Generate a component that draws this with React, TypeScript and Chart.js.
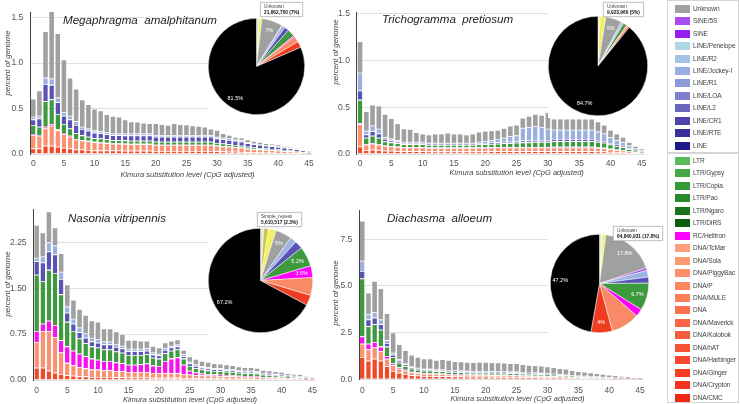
import React, { useEffect, useRef } from "react";
import { Chart, registerables } from "chart.js";

Chart.register(...registerables);
Chart.defaults.font.family = "'Liberation Sans', Arial, sans-serif";

const FONT = "'Liberation Sans', Arial, sans-serif";

// ---------- categories ----------
const kimuraBins = [
  "0", "1", "2", "3", "4", "5", "6", "7", "8", "9",
  "10", "11", "12", "13", "14", "15", "16", "17", "18", "19",
  "20", "21", "22", "23", "24", "25", "26", "27", "28", "29",
  "30", "31", "32", "33", "34", "35", "36", "37", "38", "39",
  "40", "41", "42", "43", "44", "45",
];

const seriesNames = ["DNA (CMC…hAT)", "DNA (TcMar…MULE)", "RC/Helitron", "LTR", "LINE", "LINE (R1…Penelope)", "Unknown"];
const seriesColors = ["#f04a28", "#f89272", "#f812f0", "#3d9a3d", "#5a52b4", "#9cb0e0", "#a0a0a0"];

// ---------- Megaphragma amalphitanum ----------
const megaDnaRed = [0.06,0.06,0.09,0.09,0.08,0.07,0.06,0.05,0.05,0.045, 0.04,0.04,0.04,0.038,0.038,0.037,0.035,0.035,0.035,0.035, 0.033,0.033,0.033,0.033,0.033,0.033,0.033,0.033,0.033,0.033, 0.03,0.028,0.026,0.024,0.022,0.019,0.017,0.016,0.014,0.013, 0.012,0.01,0.009,0.008,0.005,0.004];
const megaDnaSalmon = [0.15,0.14,0.19,0.22,0.18,0.15,0.13,0.11,0.10,0.095, 0.09,0.085,0.08,0.075,0.075,0.074,0.072,0.072,0.072,0.072, 0.066,0.066,0.066,0.066,0.066,0.066,0.066,0.066,0.066,0.066, 0.06,0.056,0.053,0.05,0.046,0.04,0.036,0.033,0.03,0.028, 0.025,0.022,0.02,0.017,0.011,0.009];
const megaRc = [0.01,0.01,0.02,0.02,0.01,0.01,0.01,0.005,0.005,0.005, 0.005,0.005,0.005,0.005,0.005,0.005,0.005,0.005,0.005,0.005, 0.004,0.004,0.004,0.004,0.004,0.004,0.004,0.004,0.004,0.004, 0.004,0.004,0.003,0.003,0.003,0.002,0.002,0.002,0.002,0.002, 0.001,0.001,0.001,0.001,0.001,0.001];
const megaLtr = [0.10,0.09,0.28,0.27,0.17,0.10,0.08,0.065,0.05,0.045, 0.04,0.04,0.037,0.035,0.035,0.034,0.034,0.034,0.034,0.034, 0.032,0.032,0.032,0.032,0.032,0.032,0.032,0.032,0.032,0.032, 0.028,0.027,0.025,0.023,0.021,0.018,0.017,0.015,0.014,0.013, 0.012,0.01,0.009,0.008,0.005,0.004];
const megaLine = [0.06,0.09,0.19,0.16,0.13,0.09,0.10,0.09,0.07,0.065, 0.06,0.058,0.057,0.053,0.053,0.055,0.058,0.058,0.058,0.058, 0.055,0.055,0.055,0.055,0.055,0.055,0.055,0.055,0.055,0.055, 0.05,0.048,0.047,0.045,0.044,0.039,0.037,0.034,0.031,0.03, 0.027,0.025,0.023,0.019,0.014,0.013];
const megaLineLight = [0.03,0.03,0.07,0.07,0.05,0.04,0.04,0.04,0.025,0.025, 0.025,0.022,0.021,0.019,0.019,0.02,0.021,0.021,0.021,0.021, 0.02,0.02,0.02,0.02,0.02,0.02,0.02,0.02,0.02,0.02, 0.018,0.017,0.016,0.015,0.014,0.012,0.011,0.01,0.009,0.009, 0.008,0.007,0.006,0.005,0.004,0.004];
const megaUnknown = [0.19,0.27,0.50,0.73,0.70,0.57,0.41,0.35,0.29,0.26, 0.23,0.22,0.19,0.185,0.175,0.145,0.125,0.12,0.11,0.105, 0.12,0.11,0.10,0.12,0.11,0.105,0.095,0.09,0.08,0.06, 0.065,0.04,0.03,0.02,0.02,0.02,0.015,0.015,0.01,0.01, 0.01,0.005,0.004,0.002,0,0];
const megaTickValues = [0, 0.5, 1.0, 1.5];
const megaTickLabels = ["0.0", "0.5", "1.0", "1.5"];

// ---------- Trichogramma pretiosum ----------
const trichoDnaRed = [0.08,0.04,0.045,0.04,0.035,0.035,0.03,0.03,0.03,0.03, 0.03,0.028,0.028,0.028,0.028,0.028,0.028,0.028,0.028,0.028, 0.028,0.03,0.03,0.03,0.03,0.03,0.03,0.03,0.03,0.03, 0.03,0.03,0.03,0.03,0.03,0.03,0.03,0.03,0.028,0.026, 0.022,0.019,0.016,0.011,0.007,0.005];
const trichoDnaSalmon = [0.24,0.06,0.065,0.06,0.05,0.045,0.045,0.04,0.04,0.04, 0.04,0.038,0.038,0.038,0.038,0.038,0.038,0.038,0.038,0.04, 0.04,0.04,0.04,0.04,0.04,0.04,0.04,0.04,0.04,0.04, 0.04,0.04,0.04,0.04,0.04,0.04,0.04,0.04,0.038,0.035, 0.03,0.025,0.022,0.015,0.01,0.007];
const trichoRc = [0.01,0.005,0.005,0.005,0.005,0.005,0.005,0.004,0.004,0.004, 0.004,0.004,0.004,0.004,0.004,0.004,0.004,0.004,0.004,0.004, 0.004,0.004,0.004,0.005,0.005,0.005,0.005,0.005,0.005,0.005, 0.005,0.008,0.008,0.008,0.008,0.008,0.008,0.008,0.006,0.005, 0.004,0.003,0.003,0.002,0.001,0.001];
const trichoLtr = [0.25,0.07,0.08,0.07,0.045,0.04,0.035,0.03,0.03,0.03, 0.03,0.027,0.027,0.027,0.027,0.027,0.027,0.027,0.027,0.03, 0.032,0.034,0.036,0.04,0.042,0.045,0.05,0.05,0.055,0.055, 0.055,0.06,0.06,0.06,0.06,0.06,0.06,0.06,0.058,0.054, 0.045,0.038,0.033,0.023,0.015,0.01];
const trichoLine = [0.1,0.035,0.05,0.045,0.025,0.02,0.018,0.013,0.013,0.013, 0.013,0.012,0.012,0.012,0.012,0.012,0.012,0.012,0.012,0.013, 0.014,0.015,0.015,0.015,0.015,0.015,0.02,0.02,0.02,0.02, 0.02,0.022,0.022,0.022,0.022,0.022,0.022,0.022,0.02,0.02, 0.017,0.015,0.014,0.01,0.007,0.005];
const trichoLineLight = [0.19,0.04,0.06,0.05,0.02,0.02,0.017,0.013,0.013,0.013, 0.013,0.011,0.011,0.011,0.011,0.011,0.011,0.011,0.011,0.015, 0.022,0.027,0.035,0.045,0.058,0.065,0.135,0.145,0.15,0.14, 0.12,0.1,0.1,0.1,0.1,0.1,0.1,0.1,0.09,0.08, 0.062,0.05,0.042,0.029,0.02,0.012];
const trichoUnknown = [0.33,0.20,0.215,0.24,0.24,0.21,0.17,0.135,0.13,0.095, 0.08,0.08,0.09,0.09,0.10,0.09,0.09,0.08,0.09,0.10, 0.10,0.095,0.09,0.095,0.105,0.105,0.10,0.11,0.12,0.12, 0.17,0.11,0.11,0.11,0.11,0.11,0.11,0.11,0.10,0.085, 0.07,0.06,0.045,0.03,0.017,0.01];
const trichoTickValues = [0, 0.5, 1.0, 1.5];
const trichoTickLabels = ["0.0", "0.5", "1.0", "1.5"];

// ---------- Nasonia vitripennis ----------
const nasDnaRed = [0.2,0.2,0.15,0.12,0.1,0.08,0.07,0.06,0.06,0.05, 0.05,0.05,0.05,0.045,0.045,0.04,0.04,0.04,0.04,0.035, 0.035,0.035,0.035,0.035,0.03,0.03,0.028,0.026,0.025,0.024, 0.023,0.022,0.021,0.02,0.019,0.019,0.018,0.015,0.014,0.013, 0.012,0.01,0.009,0.008,0.006,0.004];
const nasDnaSalmon = [0.42,0.6,0.65,0.58,0.35,0.2,0.17,0.15,0.13,0.12, 0.12,0.11,0.11,0.1,0.1,0.09,0.09,0.09,0.09,0.08, 0.075,0.075,0.075,0.075,0.07,0.06,0.055,0.05,0.048,0.045, 0.044,0.042,0.04,0.036,0.034,0.034,0.032,0.026,0.025,0.022, 0.02,0.017,0.015,0.013,0.009,0.006];
const nasRc = [0.18,0.12,0.17,0.2,0.2,0.27,0.24,0.22,0.2,0.18, 0.16,0.15,0.15,0.14,0.13,0.12,0.12,0.13,0.14,0.12, 0.12,0.2,0.24,0.26,0.15,0.06,0.04,0.03,0.025,0.02, 0.02,0.018,0.017,0.015,0.014,0.014,0.013,0.01,0.01,0.009, 0.008,0.006,0.005,0.005,0.003,0.002];
const nasLtr = [0.92,0.7,0.83,0.85,0.75,0.4,0.32,0.25,0.21,0.2, 0.2,0.19,0.19,0.18,0.17,0.16,0.16,0.15,0.15,0.13, 0.12,0.13,0.13,0.13,0.1,0.08,0.07,0.065,0.06,0.058, 0.056,0.054,0.052,0.048,0.045,0.045,0.042,0.034,0.033,0.029, 0.027,0.022,0.019,0.017,0.012,0.008];
const nasLine = [0.22,0.3,0.3,0.3,0.25,0.15,0.12,0.1,0.09,0.08, 0.08,0.08,0.08,0.075,0.07,0.06,0.06,0.06,0.06,0.05, 0.05,0.05,0.05,0.05,0.04,0.04,0.035,0.032,0.03,0.028, 0.028,0.026,0.025,0.024,0.023,0.023,0.022,0.019,0.018,0.017, 0.016,0.014,0.013,0.012,0.009,0.006];
const nasLineLight = [0.06,0.1,0.15,0.15,0.12,0.1,0.08,0.08,0.07,0.06, 0.06,0.05,0.05,0.05,0.045,0.04,0.04,0.04,0.04,0.035, 0.03,0.03,0.03,0.03,0.03,0.03,0.025,0.022,0.02,0.02, 0.019,0.018,0.017,0.016,0.015,0.015,0.014,0.012,0.012,0.011, 0.01,0.009,0.008,0.008,0.006,0.004];
const nasUnknown = [0.52,0.38,0.49,0.28,0.29,0.35,0.30,0.29,0.29,0.27, 0.27,0.20,0.20,0.19,0.175,0.13,0.13,0.12,0.11,0.095, 0.09,0.08,0.07,0.07,0.06,0.07,0.077,0.075,0.072,0.065, 0.065,0.06,0.058,0.051,0.045,0.045,0.044,0.034,0.033,0.029, 0.027,0.022,0.018,0.017,0.01,0.005];
const nasTickValues = [0, 0.75, 1.5, 2.25];
const nasTickLabels = ["0.00", "0.75", "1.50", "2.25"];

// ---------- Diachasma alloeum ----------
const diaDnaRed = [1.2,1.0,1.1,1.0,0.7,0.45,0.35,0.28,0.22,0.2, 0.18,0.18,0.17,0.17,0.16,0.15,0.15,0.14,0.14,0.14, 0.14,0.13,0.13,0.13,0.12,0.12,0.11,0.105,0.1,0.095, 0.09,0.085,0.075,0.07,0.06,0.05,0.045,0.04,0.035,0.03, 0.025,0.02,0.016,0.012,0.008,0.005];
const diaDnaSalmon = [0.7,0.6,0.6,0.5,0.4,0.3,0.22,0.18,0.15,0.13, 0.12,0.12,0.11,0.11,0.1,0.1,0.1,0.1,0.09,0.09, 0.09,0.09,0.09,0.085,0.085,0.085,0.08,0.075,0.07,0.07, 0.065,0.06,0.055,0.05,0.045,0.04,0.035,0.03,0.027,0.023, 0.02,0.016,0.013,0.01,0.006,0.004];
const diaRc = [0.4,0.3,0.3,0.25,0.15,0.1,0.07,0.05,0.04,0.04, 0.03,0.03,0.03,0.03,0.03,0.03,0.03,0.03,0.03,0.03, 0.03,0.03,0.03,0.03,0.03,0.03,0.025,0.025,0.025,0.02, 0.02,0.02,0.018,0.017,0.015,0.012,0.011,0.01,0.009,0.008, 0.007,0.006,0.005,0.004,0.003,0.002];
const diaLtr = [3.1,0.95,0.95,0.9,0.5,0.35,0.25,0.2,0.16,0.14, 0.13,0.13,0.12,0.12,0.11,0.11,0.1,0.1,0.1,0.1, 0.1,0.1,0.1,0.095,0.095,0.095,0.09,0.085,0.085,0.08, 0.075,0.07,0.065,0.06,0.055,0.05,0.045,0.04,0.037,0.033, 0.028,0.024,0.019,0.015,0.01,0.006];
const diaLine = [0.4,0.35,0.35,0.3,0.2,0.12,0.1,0.08,0.07,0.06, 0.06,0.06,0.05,0.05,0.05,0.05,0.05,0.05,0.05,0.05, 0.05,0.05,0.05,0.05,0.05,0.05,0.05,0.045,0.045,0.045, 0.045,0.045,0.04,0.04,0.035,0.035,0.035,0.035,0.035,0.034, 0.032,0.03,0.027,0.024,0.018,0.012];
const diaLineLight = [0.55,0.3,0.3,0.25,0.15,0.1,0.08,0.06,0.05,0.05, 0.04,0.04,0.04,0.04,0.04,0.04,0.04,0.04,0.04,0.04, 0.04,0.04,0.035,0.035,0.035,0.035,0.035,0.035,0.035,0.035, 0.03,0.03,0.027,0.026,0.023,0.02,0.019,0.018,0.017,0.015, 0.013,0.012,0.01,0.009,0.007,0.005];
const diaUnknown = [2.1,1.1,1.63,1.64,1.4,1.04,0.77,0.67,0.58,0.54, 0.51,0.51,0.48,0.52,0.51,0.45,0.44,0.43,0.425,0.44, 0.44,0.435,0.425,0.415,0.405,0.405,0.38,0.36,0.35,0.335, 0.315,0.30,0.27,0.257,0.217,0.183,0.17,0.147,0.13,0.107, 0.085,0.072,0.05,0.036,0.018,0.006];
const diaTickValues = [0, 2.5, 5.0, 7.5];
const diaTickLabels = ["0.0", "2.5", "5.0", "7.5"];

// ---------- pies (percent of genome) ----------
const pieCategories = ["Other", "Low_complexity", "Simple_repeat", "Unknown", "SINE", "LINE (minor)", "LINE", "LTR", "RC/Helitron", "DNA (minor)", "DNA", "Non-repeat"];
const pieColors = ["#e4e4e4", "#c9c94e", "#f2f25c", "#a0a0a0", "#a040f0", "#a0b4e4", "#5a52b4", "#3d9a3d", "#ff00ff", "#f88a68", "#f03c20", "#000000"];
const megaPie = [0.8, 0, 1.0, 7, 0.2, 1.0, 1.5, 2.5, 0.4, 2.0, 2.1, 81.5];
const megaPieLabels = ["", "", "", "7%", "", "", "", "", "", "", "", "81.5%"];
const trichoPie = [0.6, 0, 1.8, 5, 0, 0.5, 0.3, 1.1, 0.1, 0.5, 0.4, 84.7];
const trichoPieLabels = ["", "", "", "5%", "", "", "", "", "", "", "", "84.7%"];
const nasPie = [1.0, 1.5, 2.3, 5, 0, 2.0, 2.5, 6.2, 3.6, 5.5, 3.2, 67.2];
const nasPieLabels = ["", "", "", "5%", "", "", "", "5.2%", "3.6%", "", "", "67.2%"];
const diaPie = [0.8, 0.3, 1.0, 17.8, 0.8, 2.2, 2.0, 9.0, 2.5, 9.4, 7.0, 47.2];
const diaPieLabels = ["", "", "", "17.8%", "", "", "", "6.7%", "", "", "4%", "47.2%"];

// ---------- legend ----------
const legendNamesA = ["Unknown", "SINE/5S", "SINE", "LINE/Penelope", "LINE/R2", "LINE/Jockey-I", "LINE/R1", "LINE/LOA", "LINE/L2", "LINE/CR1", "LINE/RTE", "LINE"];
const legendColorsA = ["#a0a0a0", "#a94cf2", "#9420f0", "#add8e6", "#a6c2e6", "#98ade0", "#8c9ad8", "#7c82cc", "#6a66bc", "#4e44a8", "#3a2e9c", "#1e1a8c"];
const legendNamesB = ["LTR", "LTR/Gypsy", "LTR/Copia", "LTR/Pao", "LTR/Ngaro", "LTR/DIRS", "RC/Helitron", "DNA/TcMar", "DNA/Sola", "DNA/PiggyBac", "DNA/P", "DNA/MULE", "DNA", "DNA/Maverick", "DNA/Kolobok", "DNA/hAT", "DNA/Harbinger", "DNA/Ginger", "DNA/Crypton", "DNA/CMC"];
const legendColorsB = ["#5cb85c", "#48a848", "#379a37", "#2a8a2a", "#1a741a", "#0b5e0b", "#ff00ff", "#ffa07a", "#fe9a72", "#fd906a", "#fc8862", "#fb805a", "#f97050", "#f86646", "#f85c3e", "#f75236", "#f7482e", "#f63e26", "#f5321e", "#f42616"];

type BarSpec = {
  left: number; top: number; width: number; height: number;
  yAxisW: number; padRight: number; padTop: number; xAxisH: number; xTickPad: number;
  max: number; tickValues: number[]; tickLabels: string[]; series: number[][];
};

const barSpecs: BarSpec[] = [
  { left: 0, top: 0, width: 330, height: 180, yAxisW: 30.2, padRight: 18, padTop: 10.5, xAxisH: 26, xTickPad: 5, max: 1.56,
    tickValues: megaTickValues, tickLabels: megaTickLabels,
    series: [megaDnaRed, megaDnaSalmon, megaRc, megaLtr, megaLine, megaLineLight, megaUnknown] },
  { left: 330, top: 0, width: 330, height: 180, yAxisW: 26.9, padRight: 15.1, padTop: 9.6, xAxisH: 26, xTickPad: 5, max: 1.52,
    tickValues: trichoTickValues, tickLabels: trichoTickLabels,
    series: [trichoDnaRed, trichoDnaSalmon, trichoRc, trichoLtr, trichoLine, trichoLineLight, trichoUnknown] },
  { left: 0, top: 180, width: 330, height: 224, yAxisW: 33.6, padRight: 14.7, padTop: 29.9, xAxisH: 24, xTickPad: 6, max: 2.78,
    tickValues: nasTickValues, tickLabels: nasTickLabels,
    series: [nasDnaRed, nasDnaSalmon, nasRc, nasLtr, nasLine, nasLineLight, nasUnknown] },
  { left: 330, top: 180, width: 330, height: 224, yAxisW: 29.2, padRight: 16.9, padTop: 30.3, xAxisH: 24.7, xTickPad: 6, max: 9.05,
    tickValues: diaTickValues, tickLabels: diaTickLabels,
    series: [diaDnaRed, diaDnaSalmon, diaRc, diaLtr, diaLine, diaLineLight, diaUnknown] },
];

function BarPanel({ spec }: { spec: BarSpec }) {
  const ref = useRef<HTMLCanvasElement>(null);
  useEffect(() => {
    const chart = new Chart(ref.current as HTMLCanvasElement, {
      type: "bar",
      data: {
        labels: kimuraBins,
        datasets: spec.series.map((d, i) => ({
          label: seriesNames[i],
          data: d,
          backgroundColor: seriesColors[i],
          borderColor: "#ffffff",
          borderWidth: i === spec.series.length - 1 ? 0 : { top: 0.8, bottom: 0, left: 0, right: 0 },
          barPercentage: 0.74,
          categoryPercentage: 1,
        })),
      },
      options: {
        animation: false,
        responsive: false,
        events: [],
        layout: { padding: { left: 0, right: spec.padRight, top: spec.padTop, bottom: 0 } },
        plugins: { legend: { display: false }, tooltip: { enabled: false } },
        scales: {
          x: {
            stacked: true,
            grid: { display: false, drawTicks: false, tickLength: 0 },
            border: { display: false },
            ticks: {
              autoSkip: false, maxRotation: 0, minRotation: 0, padding: spec.xTickPad,
              color: "#555", font: { size: 8.5 },
              callback: (_v: any, i: number) => (i % 5 === 0 ? kimuraBins[i] : ""),
            },
            afterFit: (s: any) => { s.height = spec.xAxisH; },
          },
          y: {
            stacked: true, min: 0, max: spec.max,
            grid: { color: "#e0e0e0", drawTicks: false, tickLength: 0 },
            border: { display: true, color: "#444", width: 1 },
            ticks: {
              padding: 7, color: "#555", font: { size: 8.5 },
              callback: (v: any) => { const k = spec.tickValues.indexOf(Number(v)); return k >= 0 ? spec.tickLabels[k] : ""; },
            },
            afterBuildTicks: (s: any) => { s.ticks = spec.tickValues.map((v) => ({ value: v })); },
            afterFit: (s: any) => { s.width = spec.yAxisW; },
          },
        },
      } as any,
    });
    return () => chart.destroy();
  }, []);
  return (
    <canvas ref={ref} width={spec.width} height={spec.height}
      style={{ position: "absolute", left: spec.left, top: spec.top, width: spec.width, height: spec.height }} />
  );
}

const sliceLabelPlugin = {
  id: "sliceLabels",
  afterDatasetsDraw(chart: any, _args: any, opts: any) {
    const labels: string[] = opts.labels || [];
    const meta = chart.getDatasetMeta(0);
    const ctx = chart.ctx;
    ctx.save();
    ctx.fillStyle = "#ffffff";
    ctx.font = `5.5px ${FONT}`;
    ctx.textAlign = "center";
    ctx.textBaseline = "middle";
    meta.data.forEach((arc: any, i: number) => {
      const t = labels[i];
      if (!t) return;
      const p = arc.getProps(["x", "y", "startAngle", "endAngle", "outerRadius"], true);
      const mid = (p.startAngle + p.endAngle) / 2;
      const r = p.outerRadius * (opts.ratio || 0.8);
      ctx.fillText(t, p.x + Math.cos(mid) * r, p.y + Math.sin(mid) * r);
    });
    ctx.restore();
  },
};

type PieSpec = {
  rect: number[]; canvas: number[]; values: number[]; labels: string[];
  tip: { left: number; top: number; name: string; value: string };
};

const pieSpecs: PieSpec[] = [
  { rect: [208, 10, 104, 110], canvas: [208, 18, 97], values: megaPie, labels: megaPieLabels,
    tip: { left: 260, top: 2, name: "Unknown", value: "21,862,700 (7%)" } },
  { rect: [548, 8, 102, 110], canvas: [548, 16, 100], values: trichoPie, labels: trichoPieLabels,
    tip: { left: 603, top: 2, name: "Unknown", value: "9,923,960 (5%)" } },
  { rect: [208, 200, 106, 136], canvas: [208, 228, 105], values: nasPie, labels: nasPieLabels,
    tip: { left: 257, top: 212, name: "Simple_repeat", value: "5,610,517 (2.3%)" } },
  { rect: [548, 215, 102, 121], canvas: [550, 234, 99], values: diaPie, labels: diaPieLabels,
    tip: { left: 613, top: 226, name: "Unknown", value: "64,840,931 (17.8%)" } },
];

function PiePanel({ spec }: { spec: PieSpec }) {
  const ref = useRef<HTMLCanvasElement>(null);
  useEffect(() => {
    const chart = new Chart(ref.current as HTMLCanvasElement, {
      type: "pie",
      data: {
        labels: pieCategories,
        datasets: [{ data: spec.values, backgroundColor: pieColors, borderColor: "#ffffff", borderWidth: 0.5 }],
      },
      options: {
        animation: false,
        responsive: false,
        events: [],
        layout: { padding: 0 },
        plugins: { legend: { display: false }, tooltip: { enabled: false }, sliceLabels: { labels: spec.labels, ratio: 0.8 } },
      } as any,
      plugins: [sliceLabelPlugin as any],
    });
    return () => chart.destroy();
  }, []);
  const [rl, rt, rw, rh] = spec.rect;
  const [cl, ct, cs] = spec.canvas;
  return (
    <>
      <div style={{ position: "absolute", left: rl, top: rt, width: rw, height: rh, background: "#fff" }} />
      <canvas ref={ref} width={cs} height={cs} style={{ position: "absolute", left: cl, top: ct, width: cs, height: cs }} />
      <div style={{
        position: "absolute", left: spec.tip.left, top: spec.tip.top, background: "#fff",
        border: "1px solid #c8c8c8", boxShadow: "0 0 1px rgba(0,0,0,0.25)", padding: "1px 3px",
        fontFamily: FONT, fontSize: 4.8, lineHeight: "5.6px", color: "#444", whiteSpace: "nowrap",
      }}>
        <div>{spec.tip.name}</div>
        <div style={{ fontWeight: "bold", color: "#111" }}>{spec.tip.value}</div>
      </div>
    </>
  );
}

const speciesTitles = [
  { text: "Megaphragma  amalphitanum", left: 63, top: 13 },
  { text: "Trichogramma  pretiosum", left: 382, top: 12.3 },
  { text: "Nasonia vitripennis", left: 68, top: 211.3 },
  { text: "Diachasma  alloeum", left: 387, top: 211.3 },
];
const yTitles = [
  { cx: 7, cy: 63 }, { cx: 335, cy: 52 }, { cx: 7, cy: 284 }, { cx: 335, cy: 293 },
];
const xTitles = [
  { cx: 187.5, cy: 173.5 }, { cx: 516.7, cy: 171.7 }, { cx: 190, cy: 398.5 }, { cx: 517.5, cy: 398 },
];

function LegendBox({ names, colors, top, height, firstY }: { names: string[]; colors: string[]; top: number; height: number; firstY: number }) {
  return (
    <div style={{ position: "absolute", left: 667, top, width: 72, height, border: "1px solid #d4d4d4", boxSizing: "border-box" }}>
      {names.map((n, i) => (
        <div key={n} style={{ position: "absolute", left: 0, top: firstY + i * 12.45 - top - 6, height: 12, width: 71 }}>
          <div style={{ position: "absolute", left: 7, top: 2, width: 15, height: 8, background: colors[i] }} />
          <div style={{ position: "absolute", left: 25, top: 0, fontFamily: FONT, fontSize: 6.6, letterSpacing: -0.15, lineHeight: "12px", color: "#444", whiteSpace: "nowrap" }}>{n}</div>
        </div>
      ))}
    </div>
  );
}

export default function App() {
  return (
    <div style={{ position: "fixed", left: 0, top: 0, width: 740, height: 404, background: "#fff", overflow: "hidden", fontFamily: FONT }}>
      {barSpecs.map((s, i) => <BarPanel key={i} spec={s} />)}
      {pieSpecs.map((s, i) => <PiePanel key={i} spec={s} />)}
      {speciesTitles.map((t, i) => (
        <div key={i} style={{ position: "absolute", left: t.left, top: t.top, fontFamily: FONT, fontStyle: "italic", fontSize: 11.6, lineHeight: "14px", color: "#222", whiteSpace: "pre" }}>{t.text}</div>
      ))}
      {yTitles.map((t, i) => (
        <div key={i} style={{ position: "absolute", left: t.cx, top: t.cy, transform: "translate(-50%,-50%) rotate(-90deg)", fontFamily: FONT, fontStyle: "italic", fontSize: 7.8, color: "#444", whiteSpace: "nowrap" }}>percent of genome</div>
      ))}
      {xTitles.map((t, i) => (
        <div key={i} style={{ position: "absolute", left: t.cx, top: t.cy, transform: "translate(-50%,-50%)", fontFamily: FONT, fontStyle: "italic", fontSize: 7.5, color: "#444", whiteSpace: "nowrap" }}>Kimura substitution level (CpG adjusted)</div>
      ))}
      <LegendBox names={legendNamesA} colors={legendColorsA} top={0} height={153} firstY={7.7} />
      <LegendBox names={legendNamesB} colors={legendColorsB} top={153} height={250} firstY={160} />
    </div>
  );
}
